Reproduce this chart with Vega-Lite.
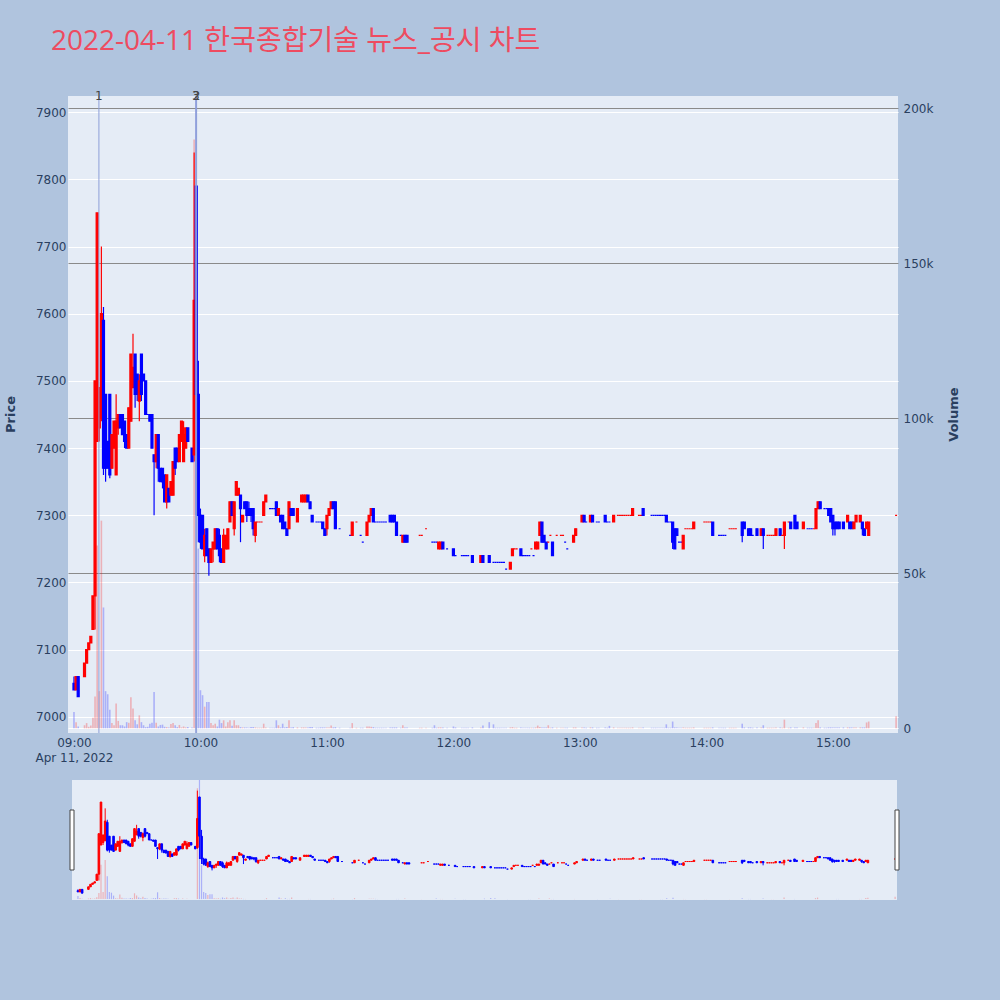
{
"$schema": "https://vega.github.io/schema/vega-lite/v6.json",
"width": 830, "height": 637,
"autosize": "none",
"padding": {"left": 68, "top": 96, "right": 102, "bottom": 267},
"background": "#B0C4DE",
"view": {"fill": "#E5ECF6", "stroke": null},
"config": {"font": "DejaVu Sans", "axis": {"labelColor": "#2a3f5f", "titleColor": "#2a3f5f", "labelFontSize": 12, "ticks": false, "tickSize": 0, "domain": false, "labelFlush": false, "labelOverlap": false}},
"title": {"text": "2022-04-11 한국종합기술 뉴스_공시 차트", "anchor": "start", "frame": "group", "dx": -17, "offset": 12, "font": "Open Sans, Noto Sans CJK KR, sans-serif", "fontSize": 28, "fontWeight": "normal", "color": "#EE4B60", "baseline": "alphabetic"},
"datasets": {
"news": [{"t":"2022-04-11T09:11:50","label":"1"},{"t":"2022-04-11T09:57:45","label":"3"},{"t":"2022-04-11T09:58:10","label":"2"}],
"candles": [
{"t":"2022-04-11T09:00","o":7050,"h":7060,"l":7040,"c":7040,"v":5300,"d":"down"},
{"t":"2022-04-11T09:01","o":7040,"h":7060,"l":7040,"c":7060,"v":2000,"d":"up"},
{"t":"2022-04-11T09:02","o":7060,"h":7060,"l":7030,"c":7030,"v":600,"d":"down"},
{"t":"2022-04-11T09:05","o":7060,"h":7080,"l":7060,"c":7080,"v":1000,"d":"up"},
{"t":"2022-04-11T09:06","o":7080,"h":7100,"l":7080,"c":7100,"v":1700,"d":"up"},
{"t":"2022-04-11T09:07","o":7100,"h":7110,"l":7100,"c":7110,"v":500,"d":"up"},
{"t":"2022-04-11T09:08","o":7110,"h":7120,"l":7110,"c":7120,"v":900,"d":"up"},
{"t":"2022-04-11T09:09","o":7130,"h":7180,"l":7130,"c":7180,"v":3400,"d":"up"},
{"t":"2022-04-11T09:10","o":7180,"h":7500,"l":7130,"c":7500,"v":10300,"d":"up"},
{"t":"2022-04-11T09:11","o":7410,"h":7750,"l":7410,"c":7750,"v":59000,"d":"up"},
{"t":"2022-04-11T09:12","o":7430,"h":7490,"l":7410,"c":7490,"v":12000,"d":"up"},
{"t":"2022-04-11T09:13","o":7445,"h":7700,"l":7440,"c":7600,"v":67000,"d":"up"},
{"t":"2022-04-11T09:14","o":7590,"h":7610,"l":7360,"c":7370,"v":39000,"d":"down"},
{"t":"2022-04-11T09:15","o":7480,"h":7480,"l":7350,"c":7370,"v":12000,"d":"down"},
{"t":"2022-04-11T09:16","o":7410,"h":7410,"l":7370,"c":7370,"v":11000,"d":"down"},
{"t":"2022-04-11T09:17","o":7480,"h":7480,"l":7355,"c":7360,"v":6000,"d":"down"},
{"t":"2022-04-11T09:18","o":7370,"h":7420,"l":7370,"c":7420,"v":1700,"d":"up"},
{"t":"2022-04-11T09:19","o":7400,"h":7440,"l":7400,"c":7440,"v":1000,"d":"up"},
{"t":"2022-04-11T09:20","o":7360,"h":7480,"l":7360,"c":7440,"v":8000,"d":"up"},
{"t":"2022-04-11T09:21","o":7430,"h":7450,"l":7420,"c":7450,"v":2400,"d":"up"},
{"t":"2022-04-11T09:22","o":7450,"h":7450,"l":7430,"c":7430,"v":1000,"d":"down"},
{"t":"2022-04-11T09:23","o":7450,"h":7450,"l":7420,"c":7420,"v":1000,"d":"down"},
{"t":"2022-04-11T09:24","o":7440,"h":7440,"l":7400,"c":7410,"v":600,"d":"down"},
{"t":"2022-04-11T09:25","o":7420,"h":7420,"l":7400,"c":7400,"v":2000,"d":"down"},
{"t":"2022-04-11T09:26","o":7400,"h":7460,"l":7400,"c":7460,"v":1800,"d":"up"},
{"t":"2022-04-11T09:27","o":7440,"h":7540,"l":7440,"c":7540,"v":10000,"d":"up"},
{"t":"2022-04-11T09:28","o":7490,"h":7570,"l":7490,"c":7520,"v":6400,"d":"up"},
{"t":"2022-04-11T09:29","o":7540,"h":7540,"l":7460,"c":7480,"v":2600,"d":"down"},
{"t":"2022-04-11T09:30","o":7510,"h":7510,"l":7470,"c":7480,"v":1300,"d":"down"},
{"t":"2022-04-11T09:31","o":7470,"h":7510,"l":7440,"c":7500,"v":4200,"d":"up"},
{"t":"2022-04-11T09:32","o":7540,"h":7540,"l":7470,"c":7480,"v":2000,"d":"down"},
{"t":"2022-04-11T09:33","o":7510,"h":7510,"l":7500,"c":7500,"v":1000,"d":"down"},
{"t":"2022-04-11T09:34","o":7500,"h":7500,"l":7450,"c":7450,"v":400,"d":"down"},
{"t":"2022-04-11T09:35","o":7450,"h":7450,"l":7450,"c":7450,"v":500,"d":"down"},
{"t":"2022-04-11T09:36","o":7450,"h":7450,"l":7440,"c":7440,"v":1500,"d":"down"},
{"t":"2022-04-11T09:37","o":7450,"h":7450,"l":7400,"c":7400,"v":1800,"d":"down"},
{"t":"2022-04-11T09:38","o":7390,"h":7390,"l":7300,"c":7380,"v":11700,"d":"down"},
{"t":"2022-04-11T09:39","o":7380,"h":7420,"l":7370,"c":7420,"v":1800,"d":"up"},
{"t":"2022-04-11T09:40","o":7420,"h":7420,"l":7350,"c":7370,"v":600,"d":"down"},
{"t":"2022-04-11T09:41","o":7370,"h":7370,"l":7350,"c":7350,"v":1100,"d":"down"},
{"t":"2022-04-11T09:42","o":7370,"h":7370,"l":7340,"c":7350,"v":1200,"d":"down"},
{"t":"2022-04-11T09:43","o":7360,"h":7360,"l":7320,"c":7320,"v":500,"d":"down"},
{"t":"2022-04-11T09:44","o":7320,"h":7360,"l":7310,"c":7360,"v":400,"d":"up"},
{"t":"2022-04-11T09:45","o":7340,"h":7340,"l":7320,"c":7320,"v":300,"d":"down"},
{"t":"2022-04-11T09:46","o":7330,"h":7350,"l":7330,"c":7350,"v":1400,"d":"up"},
{"t":"2022-04-11T09:47","o":7330,"h":7380,"l":7330,"c":7380,"v":1700,"d":"up"},
{"t":"2022-04-11T09:48","o":7400,"h":7400,"l":7360,"c":7370,"v":1000,"d":"down"},
{"t":"2022-04-11T09:49","o":7400,"h":7400,"l":7380,"c":7380,"v":400,"d":"down"},
{"t":"2022-04-11T09:50","o":7380,"h":7420,"l":7380,"c":7420,"v":1100,"d":"up"},
{"t":"2022-04-11T09:51","o":7410,"h":7440,"l":7410,"c":7440,"v":300,"d":"up"},
{"t":"2022-04-11T09:52","o":7380,"h":7440,"l":7380,"c":7420,"v":600,"d":"up"},
{"t":"2022-04-11T09:53","o":7400,"h":7430,"l":7400,"c":7430,"v":300,"d":"up"},
{"t":"2022-04-11T09:54","o":7430,"h":7430,"l":7410,"c":7410,"v":400,"d":"down"},
{"t":"2022-04-11T09:56","o":7400,"h":7400,"l":7380,"c":7380,"v":300,"d":"down"},
{"t":"2022-04-11T09:57","o":7390,"h":7840,"l":7380,"c":7620,"v":190000,"d":"up"},
{"t":"2022-04-11T09:58","o":7790,"h":7790,"l":7300,"c":7480,"v":204000,"d":"down"},
{"t":"2022-04-11T09:59","o":7480,"h":7530,"l":7260,"c":7300,"v":58000,"d":"down"},
{"t":"2022-04-11T10:00","o":7300,"h":7310,"l":7250,"c":7260,"v":12300,"d":"down"},
{"t":"2022-04-11T10:01","o":7300,"h":7300,"l":7250,"c":7250,"v":10700,"d":"down"},
{"t":"2022-04-11T10:02","o":7240,"h":7280,"l":7230,"c":7270,"v":7000,"d":"up"},
{"t":"2022-04-11T10:03","o":7280,"h":7280,"l":7240,"c":7240,"v":8500,"d":"down"},
{"t":"2022-04-11T10:04","o":7250,"h":7250,"l":7210,"c":7230,"v":8500,"d":"down"},
{"t":"2022-04-11T10:05","o":7230,"h":7250,"l":7230,"c":7250,"v":1700,"d":"up"},
{"t":"2022-04-11T10:06","o":7250,"h":7260,"l":7230,"c":7260,"v":1000,"d":"up"},
{"t":"2022-04-11T10:07","o":7250,"h":7280,"l":7250,"c":7280,"v":1500,"d":"up"},
{"t":"2022-04-11T10:08","o":7280,"h":7280,"l":7250,"c":7250,"v":600,"d":"down"},
{"t":"2022-04-11T10:09","o":7270,"h":7280,"l":7230,"c":7240,"v":2800,"d":"down"},
{"t":"2022-04-11T10:10","o":7250,"h":7250,"l":7230,"c":7230,"v":1700,"d":"down"},
{"t":"2022-04-11T10:11","o":7230,"h":7280,"l":7230,"c":7270,"v":2600,"d":"up"},
{"t":"2022-04-11T10:12","o":7250,"h":7270,"l":7250,"c":7270,"v":600,"d":"up"},
{"t":"2022-04-11T10:13","o":7250,"h":7280,"l":7250,"c":7280,"v":2000,"d":"up"},
{"t":"2022-04-11T10:14","o":7290,"h":7320,"l":7290,"c":7320,"v":2600,"d":"up"},
{"t":"2022-04-11T10:15","o":7320,"h":7320,"l":7300,"c":7300,"v":800,"d":"down"},
{"t":"2022-04-11T10:16","o":7280,"h":7320,"l":7270,"c":7320,"v":2600,"d":"up"},
{"t":"2022-04-11T10:17","o":7330,"h":7350,"l":7330,"c":7350,"v":1000,"d":"up"},
{"t":"2022-04-11T10:18","o":7330,"h":7340,"l":7330,"c":7340,"v":1000,"d":"up"},
{"t":"2022-04-11T10:19","o":7330,"h":7330,"l":7260,"c":7310,"v":400,"d":"down"},
{"t":"2022-04-11T10:20","o":7290,"h":7300,"l":7290,"c":7300,"v":300,"d":"up"},
{"t":"2022-04-11T10:21","o":7320,"h":7320,"l":7310,"c":7310,"v":300,"d":"down"},
{"t":"2022-04-11T10:22","o":7320,"h":7320,"l":7290,"c":7300,"v":300,"d":"down"},
{"t":"2022-04-11T10:23","o":7310,"h":7320,"l":7300,"c":7300,"v":200,"d":"down"},
{"t":"2022-04-11T10:24","o":7310,"h":7310,"l":7290,"c":7300,"v":400,"d":"down"},
{"t":"2022-04-11T10:25","o":7310,"h":7310,"l":7270,"c":7280,"v":400,"d":"down"},
{"t":"2022-04-11T10:26","o":7270,"h":7290,"l":7260,"c":7290,"v":300,"d":"up"},
{"t":"2022-04-11T10:27","o":7290,"h":7290,"l":7290,"c":7290,"v":200,"d":"up"},
{"t":"2022-04-11T10:28","o":7290,"h":7290,"l":7290,"c":7290,"v":200,"d":"up"},
{"t":"2022-04-11T10:29","o":7290,"h":7290,"l":7290,"c":7290,"v":200,"d":"up"},
{"t":"2022-04-11T10:30","o":7300,"h":7320,"l":7300,"c":7320,"v":1500,"d":"up"},
{"t":"2022-04-11T10:31","o":7320,"h":7330,"l":7320,"c":7330,"v":300,"d":"up"},
{"t":"2022-04-11T10:33","o":7310,"h":7310,"l":7310,"c":7310,"v":200,"d":"down"},
{"t":"2022-04-11T10:34","o":7310,"h":7310,"l":7310,"c":7310,"v":200,"d":"down"},
{"t":"2022-04-11T10:35","o":7310,"h":7310,"l":7310,"c":7310,"v":200,"d":"down"},
{"t":"2022-04-11T10:36","o":7320,"h":7320,"l":7300,"c":7300,"v":2600,"d":"down"},
{"t":"2022-04-11T10:37","o":7300,"h":7310,"l":7300,"c":7310,"v":1000,"d":"up"},
{"t":"2022-04-11T10:38","o":7300,"h":7300,"l":7290,"c":7290,"v":300,"d":"down"},
{"t":"2022-04-11T10:39","o":7300,"h":7300,"l":7280,"c":7280,"v":1500,"d":"down"},
{"t":"2022-04-11T10:40","o":7290,"h":7290,"l":7280,"c":7280,"v":300,"d":"down"},
{"t":"2022-04-11T10:41","o":7280,"h":7280,"l":7270,"c":7270,"v":400,"d":"down"},
{"t":"2022-04-11T10:42","o":7280,"h":7320,"l":7280,"c":7320,"v":2600,"d":"up"},
{"t":"2022-04-11T10:43","o":7310,"h":7310,"l":7300,"c":7300,"v":300,"d":"down"},
{"t":"2022-04-11T10:44","o":7310,"h":7310,"l":7300,"c":7300,"v":400,"d":"down"},
{"t":"2022-04-11T10:46","o":7290,"h":7310,"l":7290,"c":7310,"v":300,"d":"up"},
{"t":"2022-04-11T10:48","o":7320,"h":7330,"l":7320,"c":7330,"v":300,"d":"up"},
{"t":"2022-04-11T10:49","o":7320,"h":7330,"l":7320,"c":7330,"v":300,"d":"up"},
{"t":"2022-04-11T10:50","o":7320,"h":7330,"l":7320,"c":7330,"v":300,"d":"up"},
{"t":"2022-04-11T10:51","o":7330,"h":7330,"l":7320,"c":7320,"v":300,"d":"down"},
{"t":"2022-04-11T10:52","o":7320,"h":7320,"l":7310,"c":7310,"v":400,"d":"down"},
{"t":"2022-04-11T10:53","o":7300,"h":7300,"l":7290,"c":7290,"v":400,"d":"down"},
{"t":"2022-04-11T10:55","o":7290,"h":7290,"l":7290,"c":7290,"v":200,"d":"down"},
{"t":"2022-04-11T10:56","o":7290,"h":7290,"l":7290,"c":7290,"v":200,"d":"down"},
{"t":"2022-04-11T10:57","o":7290,"h":7290,"l":7290,"c":7290,"v":300,"d":"down"},
{"t":"2022-04-11T10:58","o":7290,"h":7290,"l":7280,"c":7280,"v":300,"d":"down"},
{"t":"2022-04-11T10:59","o":7280,"h":7280,"l":7270,"c":7270,"v":300,"d":"down"},
{"t":"2022-04-11T11:00","o":7280,"h":7300,"l":7270,"c":7300,"v":300,"d":"up"},
{"t":"2022-04-11T11:01","o":7300,"h":7310,"l":7300,"c":7310,"v":300,"d":"up"},
{"t":"2022-04-11T11:02","o":7310,"h":7320,"l":7310,"c":7320,"v":900,"d":"up"},
{"t":"2022-04-11T11:03","o":7320,"h":7320,"l":7310,"c":7310,"v":300,"d":"down"},
{"t":"2022-04-11T11:04","o":7320,"h":7320,"l":7280,"c":7280,"v":400,"d":"down"},
{"t":"2022-04-11T11:06","o":7280,"h":7280,"l":7280,"c":7280,"v":200,"d":"down"},
{"t":"2022-04-11T11:11","o":7270,"h":7270,"l":7270,"c":7270,"v":200,"d":"down"},
{"t":"2022-04-11T11:12","o":7270,"h":7290,"l":7270,"c":7290,"v":1700,"d":"up"},
{"t":"2022-04-11T11:14","o":7290,"h":7290,"l":7290,"c":7290,"v":200,"d":"up"},
{"t":"2022-04-11T11:16","o":7270,"h":7270,"l":7270,"c":7270,"v":200,"d":"down"},
{"t":"2022-04-11T11:17","o":7260,"h":7260,"l":7260,"c":7260,"v":200,"d":"down"},
{"t":"2022-04-11T11:19","o":7270,"h":7290,"l":7270,"c":7290,"v":600,"d":"up"},
{"t":"2022-04-11T11:20","o":7290,"h":7300,"l":7290,"c":7300,"v":600,"d":"up"},
{"t":"2022-04-11T11:21","o":7300,"h":7310,"l":7300,"c":7310,"v":500,"d":"up"},
{"t":"2022-04-11T11:22","o":7310,"h":7310,"l":7290,"c":7290,"v":400,"d":"down"},
{"t":"2022-04-11T11:23","o":7290,"h":7290,"l":7290,"c":7290,"v":200,"d":"down"},
{"t":"2022-04-11T11:24","o":7290,"h":7290,"l":7290,"c":7290,"v":200,"d":"down"},
{"t":"2022-04-11T11:25","o":7290,"h":7290,"l":7290,"c":7290,"v":200,"d":"down"},
{"t":"2022-04-11T11:26","o":7290,"h":7290,"l":7290,"c":7290,"v":200,"d":"down"},
{"t":"2022-04-11T11:27","o":7290,"h":7290,"l":7290,"c":7290,"v":200,"d":"down"},
{"t":"2022-04-11T11:28","o":7290,"h":7290,"l":7290,"c":7290,"v":200,"d":"down"},
{"t":"2022-04-11T11:30","o":7300,"h":7300,"l":7290,"c":7290,"v":300,"d":"down"},
{"t":"2022-04-11T11:31","o":7300,"h":7300,"l":7290,"c":7290,"v":300,"d":"down"},
{"t":"2022-04-11T11:32","o":7300,"h":7300,"l":7290,"c":7290,"v":300,"d":"down"},
{"t":"2022-04-11T11:33","o":7290,"h":7290,"l":7270,"c":7270,"v":300,"d":"down"},
{"t":"2022-04-11T11:35","o":7270,"h":7270,"l":7270,"c":7270,"v":200,"d":"down"},
{"t":"2022-04-11T11:36","o":7260,"h":7270,"l":7260,"c":7270,"v":1000,"d":"up"},
{"t":"2022-04-11T11:37","o":7270,"h":7270,"l":7260,"c":7260,"v":300,"d":"down"},
{"t":"2022-04-11T11:38","o":7270,"h":7270,"l":7260,"c":7260,"v":300,"d":"down"},
{"t":"2022-04-11T11:44","o":7270,"h":7270,"l":7270,"c":7270,"v":200,"d":"up"},
{"t":"2022-04-11T11:45","o":7270,"h":7270,"l":7270,"c":7270,"v":200,"d":"up"},
{"t":"2022-04-11T11:47","o":7280,"h":7280,"l":7280,"c":7280,"v":200,"d":"up"},
{"t":"2022-04-11T11:50","o":7260,"h":7260,"l":7260,"c":7260,"v":200,"d":"down"},
{"t":"2022-04-11T11:51","o":7260,"h":7260,"l":7260,"c":7260,"v":1000,"d":"down"},
{"t":"2022-04-11T11:52","o":7260,"h":7260,"l":7260,"c":7260,"v":200,"d":"down"},
{"t":"2022-04-11T11:53","o":7250,"h":7260,"l":7250,"c":7260,"v":300,"d":"up"},
{"t":"2022-04-11T11:54","o":7250,"h":7260,"l":7250,"c":7260,"v":300,"d":"up"},
{"t":"2022-04-11T11:55","o":7260,"h":7260,"l":7250,"c":7250,"v":300,"d":"down"},
{"t":"2022-04-11T11:57","o":7250,"h":7250,"l":7250,"c":7250,"v":200,"d":"down"},
{"t":"2022-04-11T12:00","o":7250,"h":7250,"l":7240,"c":7240,"v":600,"d":"down"},
{"t":"2022-04-11T12:01","o":7240,"h":7240,"l":7240,"c":7240,"v":300,"d":"down"},
{"t":"2022-04-11T12:04","o":7240,"h":7240,"l":7240,"c":7240,"v":200,"d":"down"},
{"t":"2022-04-11T12:05","o":7240,"h":7240,"l":7240,"c":7240,"v":200,"d":"down"},
{"t":"2022-04-11T12:06","o":7240,"h":7240,"l":7240,"c":7240,"v":200,"d":"down"},
{"t":"2022-04-11T12:07","o":7240,"h":7240,"l":7240,"c":7240,"v":200,"d":"down"},
{"t":"2022-04-11T12:09","o":7240,"h":7240,"l":7230,"c":7230,"v":300,"d":"down"},
{"t":"2022-04-11T12:13","o":7230,"h":7240,"l":7230,"c":7240,"v":300,"d":"up"},
{"t":"2022-04-11T12:14","o":7240,"h":7240,"l":7230,"c":7230,"v":900,"d":"down"},
{"t":"2022-04-11T12:17","o":7240,"h":7240,"l":7230,"c":7230,"v":2000,"d":"down"},
{"t":"2022-04-11T12:19","o":7230,"h":7230,"l":7230,"c":7230,"v":1300,"d":"down"},
{"t":"2022-04-11T12:20","o":7230,"h":7230,"l":7230,"c":7230,"v":200,"d":"down"},
{"t":"2022-04-11T12:21","o":7230,"h":7230,"l":7230,"c":7230,"v":200,"d":"down"},
{"t":"2022-04-11T12:22","o":7230,"h":7230,"l":7230,"c":7230,"v":200,"d":"down"},
{"t":"2022-04-11T12:23","o":7230,"h":7230,"l":7230,"c":7230,"v":200,"d":"down"},
{"t":"2022-04-11T12:24","o":7230,"h":7230,"l":7230,"c":7230,"v":200,"d":"down"},
{"t":"2022-04-11T12:25","o":7220,"h":7220,"l":7220,"c":7220,"v":200,"d":"down"},
{"t":"2022-04-11T12:27","o":7220,"h":7230,"l":7220,"c":7230,"v":300,"d":"up"},
{"t":"2022-04-11T12:28","o":7240,"h":7250,"l":7240,"c":7250,"v":400,"d":"up"},
{"t":"2022-04-11T12:29","o":7250,"h":7250,"l":7250,"c":7250,"v":200,"d":"up"},
{"t":"2022-04-11T12:30","o":7250,"h":7250,"l":7250,"c":7250,"v":200,"d":"up"},
{"t":"2022-04-11T12:32","o":7250,"h":7250,"l":7240,"c":7240,"v":300,"d":"down"},
{"t":"2022-04-11T12:33","o":7240,"h":7240,"l":7240,"c":7240,"v":200,"d":"down"},
{"t":"2022-04-11T12:34","o":7240,"h":7240,"l":7240,"c":7240,"v":200,"d":"down"},
{"t":"2022-04-11T12:35","o":7240,"h":7240,"l":7240,"c":7240,"v":200,"d":"down"},
{"t":"2022-04-11T12:36","o":7240,"h":7240,"l":7240,"c":7240,"v":200,"d":"down"},
{"t":"2022-04-11T12:37","o":7250,"h":7250,"l":7250,"c":7250,"v":200,"d":"up"},
{"t":"2022-04-11T12:38","o":7240,"h":7240,"l":7240,"c":7240,"v":200,"d":"down"},
{"t":"2022-04-11T12:39","o":7250,"h":7260,"l":7250,"c":7260,"v":300,"d":"up"},
{"t":"2022-04-11T12:40","o":7250,"h":7260,"l":7250,"c":7260,"v":900,"d":"up"},
{"t":"2022-04-11T12:41","o":7270,"h":7290,"l":7270,"c":7290,"v":400,"d":"up"},
{"t":"2022-04-11T12:42","o":7290,"h":7290,"l":7260,"c":7260,"v":300,"d":"down"},
{"t":"2022-04-11T12:43","o":7270,"h":7270,"l":7260,"c":7260,"v":300,"d":"down"},
{"t":"2022-04-11T12:44","o":7260,"h":7260,"l":7250,"c":7250,"v":300,"d":"down"},
{"t":"2022-04-11T12:45","o":7260,"h":7260,"l":7260,"c":7260,"v":1000,"d":"up"},
{"t":"2022-04-11T12:46","o":7270,"h":7270,"l":7270,"c":7270,"v":200,"d":"up"},
{"t":"2022-04-11T12:47","o":7260,"h":7260,"l":7240,"c":7240,"v":300,"d":"down"},
{"t":"2022-04-11T12:49","o":7270,"h":7270,"l":7270,"c":7270,"v":200,"d":"up"},
{"t":"2022-04-11T12:51","o":7270,"h":7270,"l":7270,"c":7270,"v":200,"d":"up"},
{"t":"2022-04-11T12:52","o":7270,"h":7270,"l":7270,"c":7270,"v":200,"d":"up"},
{"t":"2022-04-11T12:53","o":7260,"h":7260,"l":7260,"c":7260,"v":200,"d":"down"},
{"t":"2022-04-11T12:54","o":7250,"h":7250,"l":7250,"c":7250,"v":200,"d":"down"},
{"t":"2022-04-11T12:57","o":7260,"h":7270,"l":7260,"c":7270,"v":300,"d":"up"},
{"t":"2022-04-11T12:58","o":7270,"h":7280,"l":7270,"c":7280,"v":300,"d":"up"},
{"t":"2022-04-11T13:01","o":7290,"h":7300,"l":7290,"c":7300,"v":300,"d":"up"},
{"t":"2022-04-11T13:02","o":7300,"h":7300,"l":7290,"c":7290,"v":300,"d":"down"},
{"t":"2022-04-11T13:03","o":7290,"h":7290,"l":7290,"c":7290,"v":200,"d":"down"},
{"t":"2022-04-11T13:05","o":7290,"h":7300,"l":7290,"c":7300,"v":300,"d":"up"},
{"t":"2022-04-11T13:06","o":7300,"h":7300,"l":7290,"c":7290,"v":300,"d":"down"},
{"t":"2022-04-11T13:08","o":7290,"h":7290,"l":7290,"c":7290,"v":200,"d":"down"},
{"t":"2022-04-11T13:09","o":7290,"h":7290,"l":7290,"c":7290,"v":200,"d":"down"},
{"t":"2022-04-11T13:12","o":7300,"h":7300,"l":7290,"c":7290,"v":300,"d":"down"},
{"t":"2022-04-11T13:13","o":7290,"h":7290,"l":7290,"c":7290,"v":200,"d":"down"},
{"t":"2022-04-11T13:14","o":7290,"h":7290,"l":7290,"c":7290,"v":800,"d":"down"},
{"t":"2022-04-11T13:16","o":7290,"h":7300,"l":7290,"c":7300,"v":300,"d":"up"},
{"t":"2022-04-11T13:18","o":7300,"h":7300,"l":7300,"c":7300,"v":200,"d":"up"},
{"t":"2022-04-11T13:19","o":7300,"h":7300,"l":7300,"c":7300,"v":200,"d":"up"},
{"t":"2022-04-11T13:20","o":7300,"h":7300,"l":7300,"c":7300,"v":200,"d":"up"},
{"t":"2022-04-11T13:21","o":7300,"h":7300,"l":7300,"c":7300,"v":200,"d":"up"},
{"t":"2022-04-11T13:22","o":7300,"h":7300,"l":7300,"c":7300,"v":200,"d":"up"},
{"t":"2022-04-11T13:23","o":7300,"h":7300,"l":7300,"c":7300,"v":200,"d":"up"},
{"t":"2022-04-11T13:24","o":7300,"h":7300,"l":7300,"c":7300,"v":200,"d":"up"},
{"t":"2022-04-11T13:25","o":7300,"h":7310,"l":7300,"c":7310,"v":300,"d":"up"},
{"t":"2022-04-11T13:28","o":7300,"h":7300,"l":7300,"c":7300,"v":200,"d":"up"},
{"t":"2022-04-11T13:29","o":7300,"h":7300,"l":7300,"c":7300,"v":200,"d":"up"},
{"t":"2022-04-11T13:30","o":7310,"h":7310,"l":7300,"c":7300,"v":300,"d":"down"},
{"t":"2022-04-11T13:34","o":7300,"h":7300,"l":7300,"c":7300,"v":200,"d":"down"},
{"t":"2022-04-11T13:35","o":7300,"h":7300,"l":7300,"c":7300,"v":200,"d":"down"},
{"t":"2022-04-11T13:36","o":7300,"h":7300,"l":7300,"c":7300,"v":200,"d":"down"},
{"t":"2022-04-11T13:37","o":7300,"h":7300,"l":7300,"c":7300,"v":200,"d":"down"},
{"t":"2022-04-11T13:38","o":7300,"h":7300,"l":7300,"c":7300,"v":200,"d":"down"},
{"t":"2022-04-11T13:39","o":7300,"h":7300,"l":7300,"c":7300,"v":200,"d":"down"},
{"t":"2022-04-11T13:40","o":7300,"h":7300,"l":7300,"c":7300,"v":200,"d":"down"},
{"t":"2022-04-11T13:41","o":7300,"h":7300,"l":7290,"c":7290,"v":1300,"d":"down"},
{"t":"2022-04-11T13:42","o":7290,"h":7290,"l":7290,"c":7290,"v":200,"d":"down"},
{"t":"2022-04-11T13:43","o":7290,"h":7290,"l":7290,"c":7290,"v":200,"d":"down"},
{"t":"2022-04-11T13:44","o":7290,"h":7290,"l":7250,"c":7260,"v":2200,"d":"down"},
{"t":"2022-04-11T13:45","o":7280,"h":7280,"l":7250,"c":7250,"v":300,"d":"down"},
{"t":"2022-04-11T13:46","o":7280,"h":7280,"l":7270,"c":7270,"v":300,"d":"down"},
{"t":"2022-04-11T13:47","o":7260,"h":7260,"l":7260,"c":7260,"v":200,"d":"down"},
{"t":"2022-04-11T13:48","o":7260,"h":7260,"l":7260,"c":7260,"v":200,"d":"down"},
{"t":"2022-04-11T13:49","o":7250,"h":7270,"l":7250,"c":7270,"v":300,"d":"up"},
{"t":"2022-04-11T13:50","o":7280,"h":7280,"l":7280,"c":7280,"v":200,"d":"up"},
{"t":"2022-04-11T13:51","o":7280,"h":7280,"l":7280,"c":7280,"v":200,"d":"up"},
{"t":"2022-04-11T13:52","o":7280,"h":7280,"l":7280,"c":7280,"v":200,"d":"up"},
{"t":"2022-04-11T13:53","o":7280,"h":7280,"l":7280,"c":7280,"v":200,"d":"up"},
{"t":"2022-04-11T13:54","o":7280,"h":7290,"l":7280,"c":7290,"v":300,"d":"up"},
{"t":"2022-04-11T13:59","o":7290,"h":7290,"l":7290,"c":7290,"v":200,"d":"up"},
{"t":"2022-04-11T14:00","o":7290,"h":7290,"l":7290,"c":7290,"v":200,"d":"up"},
{"t":"2022-04-11T14:01","o":7290,"h":7290,"l":7290,"c":7290,"v":200,"d":"up"},
{"t":"2022-04-11T14:02","o":7290,"h":7290,"l":7290,"c":7290,"v":200,"d":"up"},
{"t":"2022-04-11T14:03","o":7290,"h":7290,"l":7270,"c":7270,"v":300,"d":"down"},
{"t":"2022-04-11T14:06","o":7270,"h":7270,"l":7270,"c":7270,"v":200,"d":"down"},
{"t":"2022-04-11T14:07","o":7270,"h":7270,"l":7270,"c":7270,"v":200,"d":"down"},
{"t":"2022-04-11T14:08","o":7270,"h":7270,"l":7270,"c":7270,"v":200,"d":"down"},
{"t":"2022-04-11T14:09","o":7270,"h":7270,"l":7270,"c":7270,"v":200,"d":"down"},
{"t":"2022-04-11T14:11","o":7280,"h":7280,"l":7280,"c":7280,"v":200,"d":"up"},
{"t":"2022-04-11T14:12","o":7280,"h":7280,"l":7280,"c":7280,"v":200,"d":"up"},
{"t":"2022-04-11T14:13","o":7280,"h":7280,"l":7280,"c":7280,"v":200,"d":"up"},
{"t":"2022-04-11T14:14","o":7280,"h":7280,"l":7280,"c":7280,"v":200,"d":"up"},
{"t":"2022-04-11T14:17","o":7290,"h":7290,"l":7260,"c":7270,"v":1500,"d":"down"},
{"t":"2022-04-11T14:18","o":7290,"h":7290,"l":7280,"c":7280,"v":300,"d":"down"},
{"t":"2022-04-11T14:20","o":7280,"h":7280,"l":7270,"c":7270,"v":300,"d":"down"},
{"t":"2022-04-11T14:21","o":7280,"h":7280,"l":7270,"c":7270,"v":300,"d":"down"},
{"t":"2022-04-11T14:22","o":7270,"h":7270,"l":7270,"c":7270,"v":200,"d":"down"},
{"t":"2022-04-11T14:24","o":7280,"h":7280,"l":7270,"c":7270,"v":300,"d":"down"},
{"t":"2022-04-11T14:26","o":7270,"h":7280,"l":7270,"c":7280,"v":300,"d":"up"},
{"t":"2022-04-11T14:27","o":7280,"h":7280,"l":7250,"c":7270,"v":1000,"d":"down"},
{"t":"2022-04-11T14:29","o":7270,"h":7270,"l":7270,"c":7270,"v":200,"d":"up"},
{"t":"2022-04-11T14:30","o":7270,"h":7270,"l":7270,"c":7270,"v":200,"d":"up"},
{"t":"2022-04-11T14:31","o":7270,"h":7270,"l":7270,"c":7270,"v":200,"d":"up"},
{"t":"2022-04-11T14:32","o":7270,"h":7270,"l":7270,"c":7270,"v":200,"d":"up"},
{"t":"2022-04-11T14:33","o":7270,"h":7280,"l":7270,"c":7280,"v":300,"d":"up"},
{"t":"2022-04-11T14:35","o":7280,"h":7280,"l":7270,"c":7270,"v":300,"d":"down"},
{"t":"2022-04-11T14:36","o":7270,"h":7270,"l":7270,"c":7270,"v":200,"d":"up"},
{"t":"2022-04-11T14:37","o":7270,"h":7290,"l":7250,"c":7290,"v":2800,"d":"up"},
{"t":"2022-04-11T14:39","o":7290,"h":7290,"l":7290,"c":7290,"v":200,"d":"up"},
{"t":"2022-04-11T14:40","o":7290,"h":7290,"l":7280,"c":7280,"v":300,"d":"down"},
{"t":"2022-04-11T14:42","o":7300,"h":7300,"l":7280,"c":7280,"v":300,"d":"down"},
{"t":"2022-04-11T14:43","o":7290,"h":7290,"l":7280,"c":7280,"v":300,"d":"down"},
{"t":"2022-04-11T14:46","o":7280,"h":7290,"l":7280,"c":7290,"v":300,"d":"up"},
{"t":"2022-04-11T14:48","o":7280,"h":7280,"l":7280,"c":7280,"v":200,"d":"down"},
{"t":"2022-04-11T14:49","o":7280,"h":7280,"l":7280,"c":7280,"v":200,"d":"down"},
{"t":"2022-04-11T14:50","o":7280,"h":7280,"l":7280,"c":7280,"v":200,"d":"down"},
{"t":"2022-04-11T14:51","o":7280,"h":7280,"l":7280,"c":7280,"v":200,"d":"up"},
{"t":"2022-04-11T14:52","o":7280,"h":7310,"l":7280,"c":7310,"v":1700,"d":"up"},
{"t":"2022-04-11T14:53","o":7310,"h":7320,"l":7310,"c":7320,"v":2600,"d":"up"},
{"t":"2022-04-11T14:54","o":7320,"h":7320,"l":7310,"c":7310,"v":300,"d":"down"},
{"t":"2022-04-11T14:56","o":7310,"h":7310,"l":7310,"c":7310,"v":200,"d":"down"},
{"t":"2022-04-11T14:57","o":7310,"h":7310,"l":7310,"c":7310,"v":200,"d":"down"},
{"t":"2022-04-11T14:58","o":7310,"h":7310,"l":7300,"c":7300,"v":300,"d":"down"},
{"t":"2022-04-11T14:59","o":7310,"h":7310,"l":7290,"c":7290,"v":300,"d":"down"},
{"t":"2022-04-11T15:00","o":7300,"h":7300,"l":7270,"c":7280,"v":300,"d":"down"},
{"t":"2022-04-11T15:01","o":7290,"h":7290,"l":7270,"c":7280,"v":300,"d":"down"},
{"t":"2022-04-11T15:02","o":7290,"h":7290,"l":7280,"c":7280,"v":300,"d":"down"},
{"t":"2022-04-11T15:03","o":7290,"h":7290,"l":7280,"c":7280,"v":300,"d":"down"},
{"t":"2022-04-11T15:05","o":7290,"h":7290,"l":7280,"c":7280,"v":300,"d":"down"},
{"t":"2022-04-11T15:07","o":7290,"h":7300,"l":7290,"c":7300,"v":300,"d":"up"},
{"t":"2022-04-11T15:08","o":7290,"h":7290,"l":7280,"c":7280,"v":300,"d":"down"},
{"t":"2022-04-11T15:09","o":7290,"h":7290,"l":7280,"c":7280,"v":300,"d":"down"},
{"t":"2022-04-11T15:10","o":7280,"h":7290,"l":7280,"c":7290,"v":300,"d":"up"},
{"t":"2022-04-11T15:11","o":7290,"h":7300,"l":7290,"c":7300,"v":300,"d":"up"},
{"t":"2022-04-11T15:13","o":7290,"h":7300,"l":7290,"c":7300,"v":300,"d":"up"},
{"t":"2022-04-11T15:14","o":7290,"h":7290,"l":7270,"c":7280,"v":300,"d":"down"},
{"t":"2022-04-11T15:15","o":7280,"h":7280,"l":7270,"c":7270,"v":300,"d":"down"},
{"t":"2022-04-11T15:16","o":7280,"h":7290,"l":7280,"c":7290,"v":1900,"d":"up"},
{"t":"2022-04-11T15:17","o":7270,"h":7290,"l":7270,"c":7290,"v":2200,"d":"up"},
{"t":"2022-04-11T15:30","o":7300,"h":7300,"l":7300,"c":7300,"v":3900,"d":"up"}
]},
"layer": [
{
"data": {"name": "candles"},
"mark": {"type": "bar", "size": 1.6, "opacity": 0.25},
"encoding": {
"x": {"field": "t", "type": "temporal", "scale": {"domain": [{"year":2022,"month":4,"date":11,"hours":8,"minutes":57,"seconds":10},{"year":2022,"month":4,"date":11,"hours":15,"minutes":30,"seconds":54}], "padding": 0}, "axis": null},
"y": {"field": "v", "type": "quantitative", "scale": {"domain": [-1500, 204000], "nice": false, "zero": false}, "axis": {"orient": "right", "values": [0, 50000, 100000, 150000, 200000], "labelExpr": "datum.value == 0 ? '0' : format(datum.value / 1000, 'd') + 'k'", "title": "Volume", "grid": true, "gridColor": {"condition": {"test": "datum.value === 0", "value": "#ffffff"}, "value": "#8a8a8a"}, "gridWidth": 1, "labelPadding": 5, "titleFontWeight": "bold", "titleFontSize": 13, "titleAngle": 270, "titleX": 55, "titleY": 318, "titleAlign": "center", "titleBaseline": "middle"}},
"color": {"field": "d", "type": "nominal", "scale": {"domain": ["up", "down"], "range": ["#FF0000", "#0000FF"]}, "legend": null}
}
},
{
"layer": [
{
"data": {"name": "candles"},
"mark": {"type": "rule", "strokeWidth": 1.2},
"encoding": {
"x": {"field": "t", "type": "temporal", "scale": {"domain": [{"year":2022,"month":4,"date":11,"hours":8,"minutes":57,"seconds":10},{"year":2022,"month":4,"date":11,"hours":15,"minutes":30,"seconds":54}], "padding": 0}, "axis": {"values": [{"year":2022,"month":4,"date":11,"hours":9},{"year":2022,"month":4,"date":11,"hours":10},{"year":2022,"month":4,"date":11,"hours":11},{"year":2022,"month":4,"date":11,"hours":12},{"year":2022,"month":4,"date":11,"hours":13},{"year":2022,"month":4,"date":11,"hours":14},{"year":2022,"month":4,"date":11,"hours":15}], "labelExpr": "hours(datum.value) == 9 ? ['09:00', 'Apr 11, 2022'] : timeFormat(datum.value, '%H:%M')", "grid": false, "title": null, "labelPadding": 4, "labelLineHeight": 15}},
"y": {"field": "l", "type": "quantitative", "scale": {"domain": [6976, 7924], "nice": false, "zero": false}, "axis": {"orient": "left", "values": [7000, 7100, 7200, 7300, 7400, 7500, 7600, 7700, 7800, 7900], "format": "d", "title": "Price", "grid": true, "gridColor": "#ffffff", "gridWidth": 1, "labelPadding": 2, "titleFontWeight": "bold", "titleFontSize": 13, "titleAngle": 270, "titleX": -58, "titleY": 318, "titleAlign": "center", "titleBaseline": "middle"}},
"y2": {"field": "h"},
"color": {"field": "d", "type": "nominal", "scale": {"domain": ["up", "down"], "range": ["#FF0000", "#0000FF"]}, "legend": null}
}
},
{
"data": {"name": "candles"},
"mark": {"type": "bar", "size": 2, "strokeWidth": 1.2},
"encoding": {
"x": {"field": "t", "type": "temporal"},
"y": {"field": "o", "type": "quantitative"},
"y2": {"field": "c"},
"color": {"field": "d", "type": "nominal", "scale": {"domain": ["up", "down"], "range": ["#FF0000", "#0000FF"]}, "legend": null},
"stroke": {"field": "d", "type": "nominal", "scale": {"domain": ["up", "down"], "range": ["#FF0000", "#0000FF"]}, "legend": null}
}
},
{
"data": {"name": "news"},
"mark": {"type": "rule", "color": "#8E9FD8", "strokeWidth": 1},
"encoding": {"x": {"field": "t", "type": "temporal"}}
},
{
"data": {"name": "news"},
"mark": {"type": "text", "baseline": "middle", "align": "center", "fontSize": 12, "font": "DejaVu Sans", "color": "#444444"},
"encoding": {"x": {"field": "t", "type": "temporal"}, "y": {"datum": 7924, "type": "quantitative"}, "text": {"field": "label"}}
}
]
},
{
"layer": [
{
"data": {"values": [{}]},
"mark": {"type": "rect", "color": "#E5ECF6"},
"encoding": {
"x": {"datum": {"year":2022,"month":4,"date":11,"hours":8,"minutes":57,"seconds":10}, "type": "temporal", "scale": {"domain": [{"year":2022,"month":4,"date":11,"hours":8,"minutes":57,"seconds":10},{"year":2022,"month":4,"date":11,"hours":15,"minutes":30,"seconds":54}], "range": [4, 829], "padding": 0}, "axis": null},
"x2": {"datum": {"year":2022,"month":4,"date":11,"hours":15,"minutes":30,"seconds":54}},
"y": {"datum": 6976, "type": "quantitative", "scale": {"domain": [6976, 7924], "nice": false, "zero": false, "range": [804, 684]}, "axis": null},
"y2": {"datum": 7924}
}
},
{
"data": {"name": "candles"},
"mark": {"type": "bar", "size": 1.2, "opacity": 0.25},
"encoding": {
"x": {"field": "t", "type": "temporal", "axis": null},
"y": {"field": "v", "type": "quantitative", "scale": {"domain": [-1500, 204000], "nice": false, "zero": false, "range": [804, 684]}, "axis": null},
"color": {"field": "d", "type": "nominal", "scale": {"domain": ["up", "down"], "range": ["#FF0000", "#0000FF"]}, "legend": null}
}
},
{
"data": {"name": "candles"},
"mark": {"type": "rule", "strokeWidth": 1},
"encoding": {
"x": {"field": "t", "type": "temporal", "axis": null},
"y": {"field": "l", "type": "quantitative", "scale": {"domain": [6976, 7924], "nice": false, "zero": false, "range": [804, 684]}, "axis": null},
"y2": {"field": "h"},
"color": {"field": "d", "type": "nominal", "scale": {"domain": ["up", "down"], "range": ["#FF0000", "#0000FF"]}, "legend": null}
}
},
{
"data": {"name": "candles"},
"mark": {"type": "bar", "size": 1.6, "strokeWidth": 1},
"encoding": {
"x": {"field": "t", "type": "temporal", "axis": null},
"y": {"field": "o", "type": "quantitative", "scale": {"domain": [6976, 7924], "nice": false, "zero": false, "range": [804, 684]}, "axis": null},
"y2": {"field": "c"},
"color": {"field": "d", "type": "nominal", "scale": {"domain": ["up", "down"], "range": ["#FF0000", "#0000FF"]}, "legend": null},
"stroke": {"field": "d", "type": "nominal", "scale": {"domain": ["up", "down"], "range": ["#FF0000", "#0000FF"]}, "legend": null}
}
},
{
"data": {"values": [{"t": "2022-04-11T08:57:10"}, {"t": "2022-04-11T15:30:54"}]},
"mark": {"type": "bar", "size": 4, "fill": "#ffffff", "stroke": "#444444", "strokeWidth": 1},
"encoding": {
"x": {"field": "t", "type": "temporal", "axis": null},
"y": {"datum": 7213, "type": "quantitative", "scale": {"domain": [6976, 7924], "nice": false, "zero": false, "range": [804, 684]}, "axis": null},
"y2": {"datum": 7687}
}
}
],
"resolve": {"scale": {"y": "independent"}}
}
],
"resolve": {"scale": {"x": "independent", "y": "independent"}, "axis": {"x": "independent", "y": "independent"}}
}
